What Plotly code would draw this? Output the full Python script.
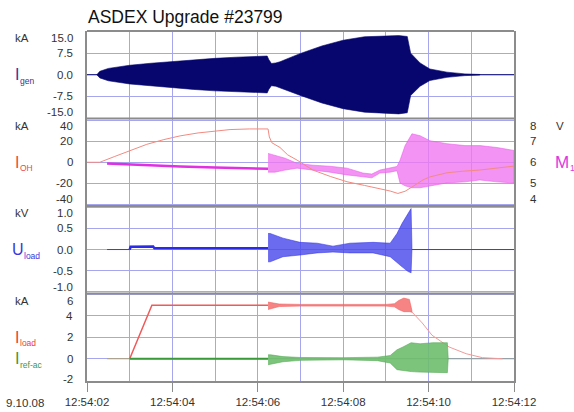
import pandas as pd
import plotly.graph_objects as go

# ---------------------------------------------------------------------------
# Shot #23799, 9 Oct 2008 -- time in seconds after 12:54:02
# Oscillating signals are stored as upper / lower envelopes.
# ---------------------------------------------------------------------------

# Generator current I_gen (kA)
gen_t = [0.23, 0.30, 0.50, 1.00, 1.50, 2.00, 2.50, 3.00, 3.50, 4.00, 4.22, 4.26,
         4.32, 4.42, 4.52, 4.68, 5.00, 5.50, 6.00, 6.50, 7.00, 7.30, 7.50, 7.54,
         7.58, 7.80, 8.03, 8.43, 8.85, 9.20]
gen_hi = [0.0, 1.2, 2.2, 3.3, 4.0, 4.6, 5.2, 5.7, 6.1, 6.4, 6.5, 5.2,
          3.9, 4.1, 4.5, 5.5, 7.4, 10.0, 12.0, 13.2, 13.5, 13.6, 13.3, 10.5,
          7.5, 4.1, 2.0, 0.9, 0.3, 0.1]
gen_lo = [0.0, -1.1, -2.1, -3.2, -3.9, -4.5, -5.1, -5.6, -5.9, -6.2, -6.3, -5.0,
          -3.8, -4.0, -4.4, -5.4, -7.2, -9.8, -11.8, -13.0, -13.4, -13.6, -13.2, -10.3,
          -7.2, -4.0, -2.0, -0.9, -0.3, -0.1]
gen_base_t = [0.0, 10.0]
gen_base_v = [0.0, 0.0]

# OH coil current I_OH (kA)
oh_t = [0.00, 0.30, 0.65, 1.00, 1.40, 1.80, 2.18, 2.60, 2.95, 3.35, 3.80, 4.24,
        4.27, 4.33, 4.52, 4.70, 4.92, 5.29, 5.70, 6.09, 6.50, 6.86, 7.10, 7.28,
        7.45, 7.63, 7.87, 8.03, 8.43, 8.80, 9.20, 9.60, 10.00]
oh_v = [0.0, 0.0, 5.5, 11.0, 17.0, 21.5, 25.0, 27.8, 29.6, 31.0, 31.6, 31.6,
        24.0, 18.5, 14.0, 7.0, 2.0, -7.4, -13.5, -18.5, -22.0, -25.0, -27.3, -29.6,
        -27.5, -23.0, -16.7, -13.9, -10.0, -8.5, -7.4, -5.5, -3.7]

# Mirnov signal M1 (V)
m1_t = [0.47, 1.30, 2.18, 3.00, 3.80, 4.24]
m1_v = [5.94, 5.86, 5.80, 5.75, 5.71, 5.69]
m1b_t = [4.24, 4.40, 4.64, 4.92, 5.29, 5.69, 6.09, 6.46, 6.67, 6.86, 7.10, 7.26,
         7.33, 7.45, 7.61, 7.80, 8.03, 8.43, 8.85, 9.20, 9.60, 10.00]
m1b_hi = [6.42, 6.33, 6.19, 5.95, 5.86, 5.81, 5.72, 5.49, 5.44, 5.63, 5.72, 5.80,
          6.09, 6.79, 7.35, 7.26, 7.02, 6.88, 6.79, 6.79, 6.70, 6.56]
m1b_lo = [5.53, 5.53, 5.63, 5.72, 5.63, 5.53, 5.40, 5.30, 5.26, 5.49, 5.53, 5.60,
          5.02, 4.88, 4.79, 4.79, 4.88, 5.02, 5.07, 5.16, 5.07, 5.02]

# Load voltage U_load (kV)
u_pre_t = [0.47, 1.00]
u_pre_v = [0.0, 0.0]
u_t = [1.00, 1.02, 1.55, 1.58, 4.24]
u_v = [0.0, 0.065, 0.07, 0.028, 0.028]
ub_t = [4.24, 4.29, 4.59, 4.99, 5.39, 5.76, 6.16, 6.70, 7.10, 7.26, 7.38, 7.52, 7.59, 7.61]
ub_hi = [0.38, 0.38, 0.27, 0.17, 0.15, 0.08, 0.15, 0.17, 0.15, 0.38, 0.62, 0.85, 0.97, 0.05]
ub_lo = [-0.29, -0.29, -0.17, -0.13, -0.08, -0.06, -0.08, -0.08, -0.17, -0.31, -0.41, -0.52, -0.55, 0.0]
u_post_t = [7.61, 10.00]
u_post_v = [0.0, 0.0]

# Load current I_load (kA)
il_pre_t = [0.47, 1.00]
il_pre_v = [0.0, 0.0]
il_t = [1.00, 1.52, 4.24]
il_v = [0.0, 5.0, 5.0]
ilb_t = [4.24, 4.30, 4.50, 5.00, 6.00, 7.00, 7.20, 7.30, 7.42, 7.55, 7.61]
ilb_hi = [5.30, 5.25, 5.12, 5.08, 5.06, 5.08, 5.15, 5.45, 5.67, 5.55, 4.50]
ilb_lo = [4.60, 4.70, 4.88, 4.92, 4.95, 4.92, 4.85, 4.60, 4.40, 4.40, 4.35]
il_dec_t = [7.61, 7.85, 8.08, 8.48, 8.88, 9.26, 9.73]
il_dec_v = [4.37, 3.35, 2.20, 1.10, 0.47, 0.10, 0.0]

# Reference AC current I_ref-ac (kA)
ir_base_t = [1.00, 10.00]
ir_base_v = [0.0, 0.0]
ir_t = [1.00, 4.24]
ir_v = [0.0, 0.0]
irb_t = [4.24, 4.30, 4.59, 5.00, 6.00, 6.80, 7.10, 7.26, 7.40, 7.59, 7.80, 8.10, 8.44, 8.46]
irb_hi = [0.37, 0.37, 0.20, 0.12, 0.10, 0.15, 0.30, 0.84, 1.10, 1.50, 1.40, 1.50, 1.50, 0.0]
irb_lo = [-0.56, -0.56, -0.28, -0.15, -0.10, -0.18, -0.40, -1.02, -1.10, -1.20, -1.25, -1.30, -1.30, 0.0]

# Axis ticks and their labels
gen_ticks = [15.0, 7.5, 0.0, -7.5, -15.0]
gen_ticktext = ["15.0", "7.5", "0.0", "-7.5", "-15.0"]
oh_ticks = [40, 20, 0, -20, -40]
oh_ticktext = ["40", "20", "0", "-20", "-40"]
m1_ticks = [8, 7, 6, 5, 4]
m1_ticktext = ["8", "7", "6", "5", "4"]
u_ticks = [1.0, 0.5, 0.0, -0.5, -1.0]
u_ticktext = ["1.0", "0.5", "0.0", "-0.5", "-1.0"]
il_ticks = [6, 4, 2, 0, -2]
il_ticktext = ["6", "4", "2", "0", "-2"]

TITLE = "ASDEX Upgrade #23799"
DATE = "9.10.08"
T0 = pd.Timestamp("2008-10-09 12:54:02")
T1 = pd.Timestamp("2008-10-09 12:54:12")

# ---------------------------------------------------------------------------
FONT = "Liberation Sans, Arial, sans-serif"
GRID = "#a6a6ee"
FRAME = "#8c8c8c"
TXT = "#333333"
NAVY = "#06066e"

DOMAINS = {"y": [0.75, 1.0], "y2": [0.5, 0.75], "y3": [0.5, 0.75],
           "y4": [0.25, 0.5], "y5": [0.0, 0.25]}


def at(sec):
    return [T0 + pd.Timedelta(seconds=s) for s in sec]


def band(t, hi, lo):
    return at(list(t) + list(t)[::-1]), list(hi) + list(lo)[::-1]


fig = go.Figure()


def line(t, v, yax, color, width):
    fig.add_trace(go.Scatter(x=at(t), y=v, xaxis="x", yaxis=yax, mode="lines",
                             line=dict(color=color, width=width), hoverinfo="skip"))


def env(t, hi, lo, yax, fill, color):
    bx, by = band(t, hi, lo)
    fig.add_trace(go.Scatter(x=bx, y=by, xaxis="x", yaxis=yax, mode="lines",
                             fill="toself", fillcolor=fill,
                             line=dict(color=color, width=0.6), hoverinfo="skip"))


# panel 1: I_gen
line(gen_base_t, gen_base_v, "y", NAVY, 1)
env(gen_t, gen_hi, gen_lo, "y", NAVY, NAVY)

# panel 2: M1 (base axis, V) below I_OH (overlay axis, kA)
line(m1_t, m1_v, "y2", "#e030e0", 2.5)
env(m1b_t, m1b_hi, m1b_lo, "y2", "rgba(240,120,240,0.8)", "rgba(235,90,235,0.9)")
line(oh_t, oh_v, "y3", "#f28a80", 1)

# panel 3: U_load
line(u_pre_t, u_pre_v, "y4", "#3a3ae8", 1)
line(u_t, u_v, "y4", "#2a2ae8", 2.5)
env(ub_t, ub_hi, ub_lo, "y4", "rgba(70,70,235,0.8)", "rgba(50,50,230,0.9)")
line(u_post_t, u_post_v, "y4", "#3a3ae8", 1)

# panel 4: I_load and I_ref-ac
line(ir_base_t, ir_base_v, "y5", "#8fa08f", 1)
line(il_pre_t, il_pre_v, "y5", "#b0a070", 1)
line(il_t, il_v, "y5", "#f05a5a", 1.5)
env(ilb_t, ilb_hi, ilb_lo, "y5", "rgba(245,110,110,0.85)", "rgba(240,90,90,0.9)")
line(il_dec_t, il_dec_v, "y5", "#f29a9a", 1)
line(ir_t, ir_v, "y5", "#3a9a3a", 2)
env(irb_t, irb_hi, irb_lo, "y5", "rgba(110,190,110,0.9)", "rgba(80,165,80,0.9)")

# ---------------------------------------------------------------------------
yax_common = dict(showline=True, linecolor=FRAME, linewidth=2, mirror=True,
                  showticklabels=False, ticks="", showgrid=True, gridcolor=GRID,
                  gridwidth=1, zeroline=False, anchor="x", fixedrange=True,
                  automargin=False)

layout_axes = dict(
    yaxis=dict(domain=DOMAINS["y"], range=[-15.2, 15.2], tickvals=gen_ticks, **yax_common),
    yaxis2=dict(domain=DOMAINS["y2"], range=[3.925, 8.075], tickvals=m1_ticks, **yax_common),
    yaxis3=dict(overlaying="y2", range=[-41.5, 41.5], showgrid=False, showline=False,
                showticklabels=False, ticks="", zeroline=False, anchor="x",
                automargin=False),
    yaxis4=dict(domain=DOMAINS["y4"], range=[-1.04, 1.03], tickvals=u_ticks, **yax_common),
    yaxis5=dict(domain=DOMAINS["y5"], range=[-2.08, 6.1], tickvals=il_ticks, **yax_common),
)

# horizontal panel frames (top of each panel)
frames = [dict(type="line", xref="paper", yref="paper", x0=0, x1=1,
               y0=DOMAINS[k][1], y1=DOMAINS[k][1], layer="above",
               line=dict(color=FRAME, width=2))
          for k in ("y", "y2", "y4", "y5")]

ann = []


def label(text, x, y, yref, xanchor="right", size=11.5, color=TXT, yshift=0):
    ann.append(dict(text=text, x=x, y=y, xref="paper", yref=yref, xanchor=xanchor,
                    yanchor="middle", showarrow=False, yshift=yshift,
                    font=dict(family=FONT, size=size, color=color)))


XL = -0.028   # left tick labels (right edge)
XU = -0.152   # unit labels
XR = 1.045    # right tick labels


def tick_column(vals, texts, yref, x, xanchor, unit=None, unit_x=None, bottom_pad=7):
    """Inner labels sit on their grid lines; the two end labels are tucked
    just inside the panel frame."""
    lo, hi = DOMAINS[yref]
    n = len(vals)
    for i, (v, s) in enumerate(zip(vals, texts)):
        if i == 0:
            label(s, x, hi, "paper", xanchor=xanchor, yshift=-7)
        elif i == n - 1:
            label(s, x, lo, "paper", xanchor=xanchor, yshift=bottom_pad)
        else:
            label(s, x, v, yref, xanchor=xanchor)
    if unit:
        label(unit, unit_x, hi, "paper", xanchor="center", yshift=-7)


tick_column(gen_ticks, gen_ticktext, "y", XL, "right", "kA", XU)
tick_column(oh_ticks, oh_ticktext, "y3", XL, "right", "kA", XU)
tick_column(m1_ticks, m1_ticktext, "y2", XR, "center", "V", 1.108)
tick_column(u_ticks, u_ticktext, "y4", XL, "right", "kV", XU)
tick_column(il_ticks, il_ticktext, "y5", XL, "right", "kA", XU, bottom_pad=2)


def sig(main, sub, color, y, yref, x, sub_dx, size=16):
    """Signal name: large main letter with a small subscript beside it."""
    label(main, x, y, yref, xanchor="left", size=size, color=color)
    label(sub, x + sub_dx, y, yref, xanchor="left", size=8.5, color=color, yshift=-6)


PX = 1 / 427.0   # one pixel in paper units across the plot width
sig("I", "gen", "#34349c", 0, "y", -74 * PX, 5 * PX)
sig("I", "OH", "#ee4848", 0, "y3", -74 * PX, 5 * PX)
sig("U", "load", "#3838dd", 0, "y4", -77 * PX, 11.5 * PX)
sig("I", "load", "#ee3a3a", 2, "y5", -74 * PX, 5 * PX)
sig("I", "ref-ac", "#359a45", 0, "y5", -74 * PX, 5 * PX)
sig("M", "1", "#dd38dd", 6, "y2", 466 * PX, 14.5 * PX, size=17)

label(DATE, -0.145, -0.063, "paper", xanchor="center")

fig.update_layout(
    width=574, height=412, autosize=False,
    margin=dict(l=87, r=60, t=31, b=31, pad=0),
    paper_bgcolor="white", plot_bgcolor="white",
    showlegend=False,
    font=dict(family=FONT, size=11.5, color=TXT),
    title=dict(text=TITLE, x=88 / 574, xanchor="left", xref="container",
               y=1 - 17 / 412, yanchor="middle",
               font=dict(family=FONT, size=17.5, color="#111111")),
    xaxis=dict(type="date", range=[T0, T1], anchor="y5", tickformat="%H:%M:%S",
               tick0=T0, dtick=2000, ticks="outside", ticklen=9, tickwidth=1,
               tickcolor=FRAME, showline=True, linecolor=FRAME, linewidth=2,
               mirror=False, showgrid=True, gridcolor=GRID, gridwidth=1,
               zeroline=False, fixedrange=True, automargin=False,
               tickfont=dict(family=FONT, size=11.5, color=TXT),
               minor=dict(dtick=1000, showgrid=True, gridcolor=GRID, gridwidth=1, ticks="")),
    shapes=frames,
    annotations=ann,
    **layout_axes,
)

fig.write_html("out.html")
